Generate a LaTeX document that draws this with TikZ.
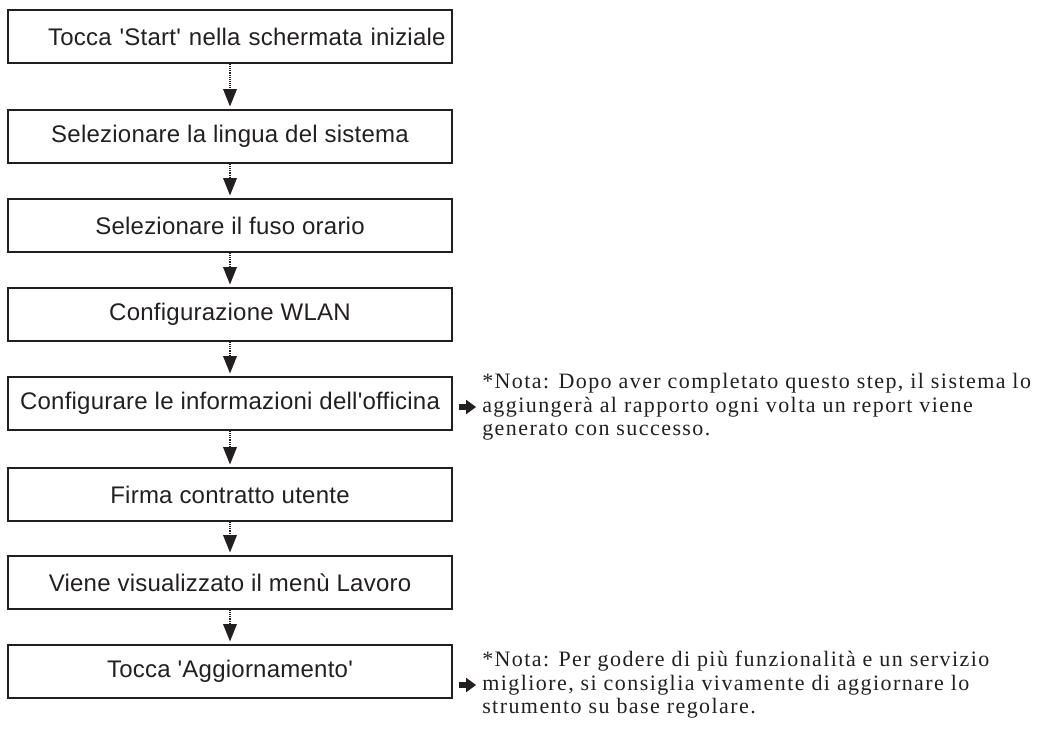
\documentclass[tikz,border=0pt]{standalone}
\usepackage{fontspec}
\usetikzlibrary{arrows.meta,positioning}
\newfontfamily\boxfont{Liberation Sans}[LetterSpace=1]
\newfontfamily\notefont{Liberation Serif}[LetterSpace=6.5]
\definecolor{ink}{HTML}{231F20}
\tikzset{
  stepbox/.style={draw=ink, line width=1.1pt, minimum width=333pt, minimum height=40pt,
    inner sep=0pt, font=\boxfont\fontsize{18}{21}\selectfont, text=ink},
  flow/.style={draw=ink, line width=0.8pt, dash pattern=on 0.8pt off 0.8pt,
    -{Triangle[width=10.5pt,length=13pt,fill=ink,line width=0pt]}, shorten >=2pt},
  notearrow/.style={draw=ink, line width=5pt, -{Triangle[width=11pt,length=7.5pt,fill=ink,line width=0pt]}},
  notetext/.style={anchor=west, align=left, inner sep=0pt, text=ink,
    font=\notefont\fontsize{16.5}{17.6}\selectfont}
}
\begin{document}
\begin{tikzpicture}[x=0.75pt,y=-0.75pt]
\useasboundingbox (0,0) rectangle (1041,729);
\node[stepbox, text width=333pt, align=left] (b1) at (230,36.5) {\hspace*{30pt}\mbox{Tocca 'Start' nella schermata iniziale}};
\node[stepbox] (b2) at (230,136.5) {Selezionare la lingua del sistema};
\node[stepbox] (b3) at (230,225.5) {Selezionare il fuso orario};
\node[stepbox] (b4) at (230,314.5) {Configurazione WLAN};
\node[stepbox] (b5) at (230,403.5) {Configurare le informazioni dell'officina};
\node[stepbox] (b6) at (230,494.5) {Firma contratto utente};
\node[stepbox] (b7) at (230,582.5) {Viene visualizzato il menù Lavoro};
\node[stepbox] (b8) at (230,671.5) {Tocca 'Aggiornamento'};
\foreach \a/\b in {b1/b2,b2/b3,b3/b4,b4/b5,b5/b6,b6/b7,b7/b8}
  \draw[flow] (\a.south) -- (\b.north);
\node[notetext] (n1) at (482,407) {*Nota: Dopo aver completato questo step, il sistema lo\\aggiungerà al rapporto ogni volta un report viene\\generato con successo.};
\node[notetext] (n2) at (482,685) {*Nota: Per godere di più funzionalità e un servizio\\migliore, si consiglia vivamente di aggiornare lo\\strumento su base regolare.};
\draw[notearrow] ([xshift=4.5pt]b5.east |- n1.west) -- ([xshift=-4.5pt]n1.west);
\draw[notearrow] ([xshift=4.5pt]b8.east |- n2.west) -- ([xshift=-4.5pt]n2.west);
\end{tikzpicture}
\end{document}
